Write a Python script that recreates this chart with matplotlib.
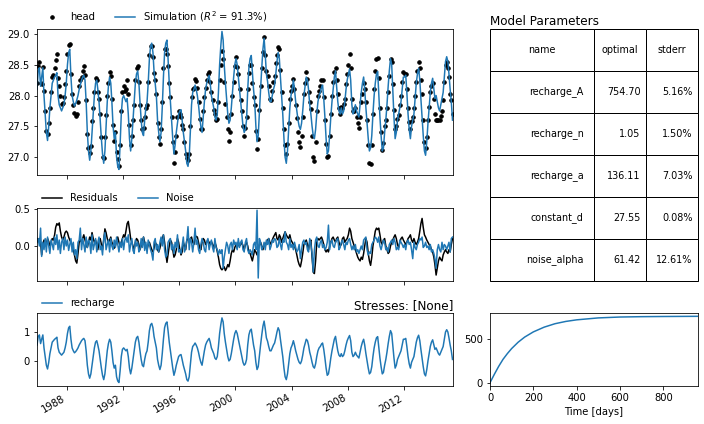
import numpy as np
import pandas as pd
import matplotlib
matplotlib.use("Agg")
import matplotlib.pyplot as plt
import matplotlib.dates as mdates
from matplotlib.ticker import MultipleLocator

# ---------------- data ----------------
start_month = "1985-11-01"
constant_d = 27.55

# recharge contribution, monthly (Nov 1985 .. Jun 2015)
rech = [
    0.55, 0.85,
    0.90, 0.60, 0.75, 0.90, 0.45, 0.15, -0.15, -0.28, -0.05, 0.25, 0.45, 0.65,
    0.70, 0.75, 0.78, 0.82, 0.45, 0.30, 0.25, 0.20, 0.25, 0.30, 0.45, 0.65,
    0.95, 1.15, 1.20, 0.75, 0.45, 0.35, 0.28, 0.32, 0.38, 0.45, 0.55, 0.62,
    0.70, 0.75, 0.78, 0.70, 0.35, -0.15, -0.45, -0.60, -0.45, -0.15, 0.15, 0.45,
    0.65, 0.70, 0.55, 0.35, 0.05, -0.25, -0.50, -0.65, -0.45, -0.05, 0.35, 0.60,
    0.75, 0.65, 0.35, -0.05, -0.25, -0.15, -0.55, -0.70, -0.75, -0.35, 0.15, 0.40,
    0.45, 0.40, 0.35, 0.40, 0.15, -0.25, -0.45, -0.25, 0.05, 0.35, 0.65, 0.80,
    0.85, 0.65, 0.35, 0.05, -0.15, -0.20, 0.05, 0.25, 0.35, 0.65, 1.05, 1.25,
    1.30, 1.15, 0.85, 0.65, 0.45, 0.05, -0.15, -0.30, -0.15, 0.25, 0.75, 1.15,
    1.30, 1.35, 1.05, 0.65, 0.35, 0.05, -0.25, -0.50, -0.35, -0.15, 0.00, 0.15,
    0.20, 0.22, 0.05, -0.15, -0.30, -0.45, -0.65, -0.70, -0.55, -0.15, 0.30, 0.50,
    0.55, 0.62, 0.55, 0.45, 0.30, 0.10, -0.05, -0.15, 0.10, 0.35, 0.55, 0.65,
    0.72, 0.78, 0.65, 0.45, 0.35, 0.25, 0.10, 0.05, 0.15, 0.50, 0.95, 1.25,
    1.49, 1.35, 0.95, 0.65, 0.40, 0.15, 0.00, 0.05, 0.25, 0.50, 0.75, 0.95,
    1.05, 0.95, 0.75, 0.55, 0.35, 0.15, -0.05, -0.15, -0.10, 0.05, 0.55, 0.90,
    1.05, 1.10, 0.85, 0.55, 0.35, -0.05, -0.30, -0.20, 0.20, 0.55, 0.90, 1.20,
    1.38, 1.10, 0.80, 0.68, 0.50, 0.35, 0.35, 0.45, 0.55, 0.62, 0.80, 1.00,
    1.15, 1.05, 0.75, 0.45, 0.15, -0.25, -0.55, -0.65, -0.45, -0.10, 0.25, 0.45,
    0.55, 0.70, 0.55, 0.35, 0.20, 0.05, -0.05, -0.10, 0.00, 0.20, 0.45, 0.60,
    0.75, 0.70, 0.55, 0.30, 0.15, -0.05, -0.20, -0.25, -0.10, 0.15, 0.35, 0.45,
    0.50, 0.58, 0.62, 0.40, 0.10, -0.25, -0.50, -0.45, -0.20, 0.10, 0.35, 0.55,
    0.75, 0.85, 0.60, 0.35, 0.20, 0.15, 0.25, 0.15, 0.20, 0.35, 0.55, 0.70,
    0.80, 0.88, 0.70, 0.30, 0.15, 0.20, 0.30, 0.20, 0.15, 0.10, 0.30, 0.50,
    0.65, 0.75, 0.55, 0.25, 0.00, -0.25, -0.45, -0.40, -0.20, 0.15, 0.45, 0.65,
    0.80, 0.84, 0.50, 0.10, -0.20, -0.45, -0.40, -0.15, 0.05, 0.30, 0.60, 0.85,
    1.05, 0.95, 0.55, 0.10, -0.25, -0.15, 0.05, 0.15, 0.25, 0.35, 0.55, 0.75,
    0.75, 0.78, 0.50, 0.15, -0.10, -0.25, -0.05, 0.05, 0.15, 0.40, 0.65, 0.80,
    0.89, 0.70, 0.40, 0.10, -0.20, -0.45, -0.52, -0.30, 0.00, 0.25, 0.50, 0.65,
    0.73, 0.55, 0.40, 0.45, 0.35, 0.25, 0.20, 0.30, 0.40, 0.50, 0.75, 1.00,
    1.08, 1.00, 0.80, 0.55, 0.35, 0.05,
]

# residuals (head - simulation), monthly
resid = [
    0.10, 0.08,
    0.10, 0.05, -0.12, 0.02, 0.08, 0.05, 0.02, 0.10, 0.06, 0.00, 0.05, 0.10,
    0.08, 0.15, 0.25, 0.30, 0.28, 0.31, 0.20, 0.12, 0.08, 0.12, 0.18, 0.20,
    0.18, 0.12, 0.08, 0.05, 0.02, -0.05, -0.12, -0.20, -0.23, -0.10, 0.05, 0.08,
    0.05, 0.10, 0.15, 0.08, 0.02, -0.02, 0.05, 0.12, 0.08, 0.18, 0.10, 0.05,
    0.08, 0.00, -0.05, 0.05, 0.10, 0.02, -0.05, 0.08, 0.23, 0.18, 0.10, 0.05,
    0.08, 0.12, 0.05, 0.02, -0.03, 0.00, 0.08, 0.12, 0.05, 0.00, 0.05, 0.10,
    0.15, 0.12, 0.20, 0.30, 0.33, 0.22, 0.10, 0.05, 0.00, -0.05, 0.05, 0.10,
    0.08, 0.02, -0.05, 0.00, 0.05, 0.12, 0.05, 0.00, -0.05, 0.02, 0.05, 0.00,
    -0.05, -0.08, -0.03, 0.05, 0.02, -0.05, -0.08, -0.03, 0.05, 0.10, 0.15, 0.05,
    -0.10, -0.22, -0.12, 0.00, 0.08, 0.05, -0.05, -0.15, -0.12, -0.05, 0.10, 0.05,
    -0.05, -0.12, -0.08, 0.05, 0.00, -0.05, 0.08, 0.10, 0.05, 0.10, 0.12, 0.05,
    0.02, 0.10, 0.13, 0.12, 0.05, -0.03, -0.05, 0.05, 0.10, 0.08, 0.02, 0.05,
    0.08, 0.05, 0.02, 0.06, 0.02, -0.03, 0.05, 0.00, -0.08, -0.15, -0.25, -0.30,
    -0.32, -0.30, -0.28, -0.33, -0.30, -0.25, -0.28, -0.20, -0.10, -0.05, -0.08, -0.02,
    0.02, -0.03, 0.05, 0.00, 0.02, 0.05, 0.00, -0.05, 0.02, 0.05, 0.00, -0.08,
    -0.10, -0.15, -0.20, -0.12, -0.05, -0.08, -0.12, -0.05, 0.02, 0.05, 0.00, -0.05,
    0.02, 0.00, 0.05, 0.08, 0.10, 0.05, 0.02, 0.08, 0.12, 0.15, 0.18, 0.10,
    0.08, 0.15, 0.12, 0.05, 0.10, 0.15, 0.19, 0.15, 0.12, 0.10, 0.15, 0.08,
    0.05, 0.02, 0.00, -0.05, -0.12, -0.20, -0.25, -0.28, -0.20, -0.10, 0.02, 0.05,
    0.08, 0.02, -0.05, 0.05, 0.08, -0.15, -0.35, -0.37, -0.20, 0.05, 0.10, 0.08,
    0.10, 0.12, 0.08, 0.02, -0.05, -0.08, -0.05, -0.08, 0.00, 0.05, 0.10, 0.12,
    0.08, 0.05, 0.10, 0.12, 0.05, 0.00, 0.02, 0.10, 0.12, 0.05, 0.08, 0.10,
    0.15, 0.24, 0.20, 0.10, 0.05, 0.00, -0.05, -0.10, -0.15, -0.18, -0.20, -0.15,
    -0.18, -0.10, 0.00, 0.10, 0.05, -0.10, -0.20, -0.26, -0.15, 0.00, 0.10, 0.20,
    0.24, 0.22, 0.24, 0.15, 0.05, 0.02, 0.08, 0.10, 0.00, -0.05, -0.10, -0.08,
    0.00, 0.05, 0.08, 0.12, 0.15, 0.10, 0.02, -0.02, 0.05, 0.10, 0.12, 0.08,
    0.05, 0.02, 0.05, 0.10, 0.12, 0.15, 0.08, 0.05, 0.10, 0.05, 0.02, 0.05,
    0.10, 0.20, 0.30, 0.37, 0.25, 0.15, 0.12, 0.08, 0.05, 0.02, 0.00, -0.05,
    -0.08, -0.15, -0.25, -0.39, -0.30, -0.20, -0.15, -0.18, -0.20, -0.12, -0.08, -0.05,
    -0.08, -0.10, -0.05, -0.08, 0.02, 0.10,
]

# noise, monthly
noise = [
    0.05, 0.10,
    0.00, 0.24, -0.14, 0.05, -0.05, 0.10, -0.08, 0.12, 0.00, -0.10, 0.08, 0.02,
    -0.05, 0.12, 0.02, 0.15, -0.05, 0.08, -0.10, 0.05, 0.10, -0.05, 0.12, 0.00,
    0.08, -0.06, 0.02, 0.10, -0.08, 0.05, -0.12, -0.05, -0.17, 0.05, 0.08, 0.24,
    -0.05, 0.10, 0.02, -0.08, 0.12, -0.02, 0.08, 0.05, -0.10, 0.15, -0.05, 0.02,
    0.10, -0.08, 0.05, 0.12, -0.05, 0.00, -0.12, 0.10, 0.18, -0.05, 0.02, 0.08,
    -0.08, 0.10, 0.00, -0.05, 0.08, -0.02, 0.12, 0.02, -0.08, 0.05, -0.02, 0.10,
    -0.05, 0.08, 0.12, 0.05, 0.15, -0.08, 0.02, 0.10, -0.06, -0.10, 0.08, 0.00,
    0.05, -0.08, -0.05, 0.10, -0.02, 0.12, -0.06, 0.05, -0.10, 0.08, 0.02, -0.05,
    -0.10, -0.19, 0.05, 0.10, -0.05, 0.02, -0.08, 0.05, 0.12, 0.00, 0.15, -0.05,
    -0.15, -0.12, 0.05, 0.08, 0.10, -0.05, 0.02, -0.10, 0.05, -0.02, 0.15, -0.08,
    -0.05, -0.10, 0.00, 0.12, -0.08, -0.02, 0.08, 0.26, -0.05, 0.10, 0.05, -0.08,
    0.05, 0.24, 0.02, 0.08, -0.05, -0.10, 0.02, 0.10, 0.05, -0.05, -0.08, 0.06,
    0.10, -0.05, 0.02, 0.08, -0.02, -0.08, 0.10, -0.02, -0.05, -0.12, -0.05, -0.10,
    -0.05, -0.30, -0.15, -0.05, 0.05, 0.00, -0.10, 0.02, 0.05, -0.05, 0.08, 0.02,
    0.05, -0.05, 0.10, -0.02, 0.05, 0.08, -0.05, -0.08, 0.05, 0.10, -0.05, -0.10,
    -0.05, -0.08, -0.12, 0.02, 0.05, -0.05, 0.48, -0.43, 0.10, 0.05, -0.05, -0.02,
    0.05, -0.05, 0.08, 0.02, 0.10, -0.05, 0.00, 0.08, 0.05, 0.10, 0.08, -0.02,
    0.00, 0.10, 0.02, -0.05, 0.08, 0.05, 0.19, 0.05, 0.02, -0.05, 0.10, -0.02,
    0.02, -0.05, 0.05, -0.02, -0.08, -0.05, 0.02, -0.17, -0.05, 0.05, 0.08, 0.02,
    0.05, -0.05, -0.08, 0.10, 0.02, -0.10, -0.35, -0.05, 0.08, 0.12, 0.00, -0.02,
    0.05, 0.08, -0.02, 0.02, -0.05, -0.02, 0.05, 0.28, -0.05, 0.05, 0.08, 0.00,
    -0.02, 0.05, 0.08, 0.10, -0.05, -0.02, 0.05, 0.08, 0.02, -0.05, 0.05, 0.02,
    0.08, 0.10, 0.02, -0.05, 0.00, -0.05, 0.02, -0.08, -0.05, -0.10, -0.05, 0.00,
    -0.05, 0.08, 0.10, 0.12, -0.05, -0.12, -0.08, -0.10, 0.02, 0.05, 0.08, 0.12,
    0.10, 0.05, 0.12, 0.00, -0.05, 0.02, 0.08, 0.05, -0.05, -0.02, -0.08, 0.02,
    0.05, 0.08, 0.02, 0.10, 0.05, -0.05, -0.02, -0.05, 0.08, 0.05, 0.02, -0.02,
    0.02, -0.05, 0.05, 0.08, 0.02, 0.05, -0.05, -0.17, 0.05, -0.02, -0.05, 0.02,
    0.05, 0.10, 0.08, 0.12, -0.02, 0.00, 0.05, -0.02, 0.00, -0.05, 0.02, -0.08,
    -0.05, -0.10, -0.17, -0.30, -0.05, 0.02, -0.05, -0.08, 0.05, -0.05, 0.02, 0.00,
    -0.05, 0.00, 0.05, -0.08, 0.10, 0.12,
]

# step response (time in days, response)
step_t = [0, 20, 40, 60, 80, 100, 130, 160, 200, 250, 300, 350, 400, 500, 600, 700, 800, 960]
step_v = [0, 95, 185, 265, 330, 388, 460, 518, 577, 631, 670, 696, 714, 736, 746, 750, 752, 754]

# parameter table
param_names = ["recharge_A", "recharge_n", "recharge_a", "constant_d", "noise_alpha"]
param_optimal = ["754.70", "1.05", "136.11", "27.55", "61.42"]
param_stderr = ["5.16%", "1.50%", "7.03%", "0.08%", "12.61%"]
table_cols = ["name", "optimal", "stderr"]

r2_text = "91.3%"
# ------------------------------------------------------------------------

assert len(rech) == len(resid) == len(noise), (len(rech), len(resid), len(noise))
dates = pd.date_range(start_month, periods=len(rech), freq="MS") + pd.Timedelta(days=14)
rech_a = np.array(rech)
sim = constant_d + rech_a
head = sim + np.array(resid)

plt.rcParams["font.family"] = "DejaVu Sans"
plt.rcParams["font.size"] = 10
blue = "#1f77b4"

fig = plt.figure(figsize=(704 / 72, 424 / 72), dpi=72)
L, W = 37 / 704, 416 / 704
ax1 = fig.add_axes([L, 1 - 175 / 424, W, 146 / 424])
ax2 = fig.add_axes([L, 1 - 281 / 424, W, 73 / 424], sharex=ax1)
ax3 = fig.add_axes([L, 1 - 386 / 424, W, 73 / 424], sharex=ax1)
axt = fig.add_axes([490 / 704, 1 - 281 / 424, 208 / 704, 252 / 424])
ax4 = fig.add_axes([490 / 704, 1 - 386 / 424, 208 / 704, 73 / 424])

# top: observations + simulation
ax1.plot(dates, head, linestyle="", marker=".", color="k", markersize=7, label="head")
ax1.plot(dates, sim, color=blue, lw=1.5, label="Simulation ($R^2$ = %s)" % r2_text)
ax1.set_ylim(26.71, 29.08)
ax1.yaxis.set_major_locator(MultipleLocator(0.5))
ax1.legend(loc="lower left", bbox_to_anchor=(0, 1), ncol=2, frameon=False,
           borderaxespad=0.1, handlelength=2.0, columnspacing=2.0)
ax1.tick_params(labelbottom=False)

# residuals and noise
ax2.plot(dates, resid, color="k", lw=1.5, label="Residuals")
ax2.plot(dates, noise, color=blue, lw=1.5, label="Noise")
ax2.set_ylim(-0.47, 0.51)
ax2.yaxis.set_major_locator(MultipleLocator(0.5))
ax2.legend(loc="lower left", bbox_to_anchor=(0, 1), ncol=2, frameon=False,
           borderaxespad=0.1, handlelength=2.0, columnspacing=2.0)
ax2.tick_params(labelbottom=False)

# recharge contribution
ax3.plot(dates, rech, color=blue, lw=1.5, label="recharge")
ax3.set_ylim(-0.87, 1.66)
ax3.yaxis.set_major_locator(MultipleLocator(1))
ax3.legend(loc="lower left", bbox_to_anchor=(0, 1), frameon=False,
           borderaxespad=0.1, handlelength=2.0)
ax3.set_title("Stresses: [None]", loc="right", fontsize=12, pad=4)
ax3.xaxis.set_major_locator(mdates.YearLocator(4))
ax3.xaxis.set_major_formatter(mdates.DateFormatter("%Y"))
ax3.set_xlim(pd.Timestamp("1985-11-14"), pd.Timestamp("2015-06-28"))
for lbl in ax3.get_xticklabels():
    lbl.set_rotation(30)
    lbl.set_ha("right")

# table
axt.axis("off")
cell_text = [[n, o, s] for n, o, s in zip(param_names, param_optimal, param_stderr)]
tbl = axt.table(cellText=cell_text, colLabels=table_cols, bbox=[0, 0, 1, 1],
                colWidths=[0.5, 0.25, 0.25], cellLoc="right", colLoc="center")
tbl.auto_set_font_size(False)
tbl.set_fontsize(9.6)
axt.set_title("Model Parameters", loc="left", fontsize=12, pad=4)

# step response
ax4.plot(step_t, step_v, color=blue, lw=1.5)
ax4.set_xlim(0, 960)
ax4.yaxis.set_major_locator(MultipleLocator(500))
ax4.set_xlabel("Time [days]")

fig.savefig("out.png", dpi=72)
